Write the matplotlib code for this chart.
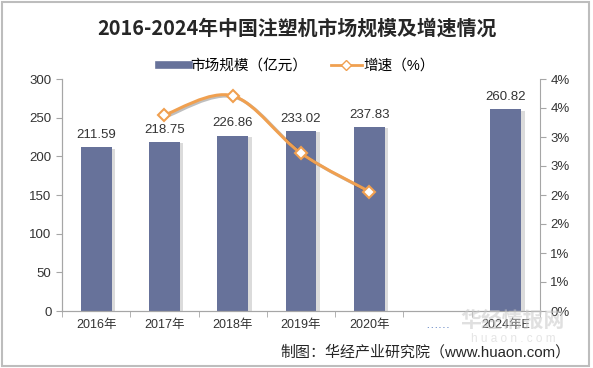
import matplotlib.pyplot as plt
import matplotlib.patheffects as pe
from matplotlib.path import Path
from matplotlib.patches import PathPatch, Rectangle
from matplotlib.lines import Line2D
from matplotlib.ticker import FuncFormatter, MultipleLocator
import numpy as np

plt.rcParams['font.family'] = ['Liberation Sans', 'Noto Sans CJK SC']

# 数据
categories = ['2016年', '2017年', '2018年', '2019年', '2020年', '……', '2024年E']
market_size = [211.59, 218.75, 226.86, 233.02, 237.83, None, 260.82]
growth_years = ['2017年', '2018年', '2019年', '2020年']
growth_rate = [3.38, 3.71, 2.72, 2.06]

bar_color = '#67729A'
line_color = '#F0A050'
axis_color = '#A6A6A6'
text_color = '#333333'

fig = plt.figure(figsize=(5.93, 3.68), dpi=100)
fig.patches.append(Rectangle((0.004, 0.006), 0.99, 0.988, transform=fig.transFigure,
                             fill=False, edgecolor='#BDBDBD', linewidth=1.5))

ax = fig.add_axes([62 / 593, 1 - 311 / 368, (540 - 62) / 593, (311 - 79) / 368])
ax2 = ax.twinx()

x = np.arange(len(categories))
xs = [i for i, v in enumerate(market_size) if v is not None]
vals = [v for v in market_size if v is not None]
bars = ax.bar(xs, vals, width=0.45, color=bar_color, zorder=2)
for b in bars:
    b.set_path_effects([pe.SimplePatchShadow(offset=(2.5, -1), shadow_rgbFace='#999999', alpha=0.35), pe.Normal()])
for xi, v in zip(xs, vals):
    ax.text(xi, v + 8, f'{v:.2f}', ha='center', va='bottom', fontsize=9.5, color=text_color)

ax.set_xlim(-0.5, len(categories) - 0.5)
ax.set_ylim(0, 300)
ax.yaxis.set_major_locator(MultipleLocator(50))
ax.set_xticks(x)
ax.set_xticklabels(categories, fontsize=9, color=text_color)
ax.get_xticklabels()[5].set_color('#5B7FC0')
ax.set_xticks(np.arange(-0.5, len(categories)), minor=True)
ax.tick_params(axis='x', which='major', length=0, pad=6)
ax.tick_params(axis='x', which='minor', length=4, color=axis_color)
ax.tick_params(axis='y', length=4, color=axis_color, labelsize=9.5, labelcolor=text_color)

for a in (ax, ax2):
    a.spines['top'].set_visible(False)
    for s in ('left', 'right', 'bottom'):
        a.spines[s].set_color(axis_color)
ax.spines['right'].set_visible(False)

# 增速 平滑曲线
gx = np.array([categories.index(c) for c in growth_years], dtype=float)
gy = np.array(growth_rate)
verts = [(gx[0], gy[0])]
codes = [Path.MOVETO]
n = len(gx)
for i in range(n - 1):
    p0 = (gx[max(i - 1, 0)], gy[max(i - 1, 0)])
    p1 = (gx[i], gy[i])
    p2 = (gx[i + 1], gy[i + 1])
    p3 = (gx[min(i + 2, n - 1)], gy[min(i + 2, n - 1)])
    c1 = (p1[0] + (p2[0] - p0[0]) / 6, p1[1] + (p2[1] - p0[1]) / 6)
    c2 = (p2[0] - (p3[0] - p1[0]) / 6, p2[1] - (p3[1] - p1[1]) / 6)
    verts += [c1, c2, p2]
    codes += [Path.CURVE4] * 3
ax2.add_patch(PathPatch(Path(verts, codes), fill=False, edgecolor=line_color, linewidth=2.2, zorder=3,
                        path_effects=[pe.SimpleLineShadow(offset=(1.5, -1), alpha=0.25), pe.Normal()]))
ax2.plot(gx, gy, linestyle='none', marker='D', markersize=6.5, markerfacecolor='white',
         markeredgecolor=line_color, markeredgewidth=1.5, zorder=4)
ax2.set_ylim(0, 4)
ax2.yaxis.set_major_locator(MultipleLocator(0.5))
ax2.yaxis.set_major_formatter(FuncFormatter(lambda v, p: f'{int(v + 0.5 + 1e-9) if v % 1 else int(v)}%'))
ax2.tick_params(axis='y', length=4, color=axis_color, labelsize=9.5, labelcolor=text_color)

# 标题与图例
fig.text(0.5, 1 - 28 / 368, '2016-2024年中国注塑机市场规模及增速情况', ha='center', va='center',
         fontsize=14.3, fontweight='bold', color='#262626', family=['Noto Sans CJK SC'])
handles = [Line2D([], [], color=bar_color, linewidth=5.5),
           Line2D([], [], color=line_color, linewidth=2, marker='D', markersize=5,
                  markerfacecolor='white', markeredgecolor=line_color)]
fig.legend(handles, ['市场规模（亿元）', '增速（%）'], loc='center', bbox_to_anchor=(0.5, 1 - 66 / 368),
           ncol=2, frameon=False, fontsize=10.5, handlelength=2.1, columnspacing=1.6, handletextpad=0.1)

# 水印与来源
fig.text(0.865, 1 - 321 / 368, '华经情报网', ha='center', va='center', fontsize=15, fontweight='bold',
         color='#C8C8C8', alpha=0.55)
fig.text(0.865, 1 - 339 / 368, 'h u a o n . c o m', ha='center', va='center', fontsize=8.5,
         color='#D0D0D0', alpha=0.55)
fig.text(1 - 22 / 593, 1 - 352 / 368, '制图：华经产业研究院（www.huaon.com）', ha='right', va='center',
         fontsize=10.8, color='#262626')

fig.savefig('out.png', dpi=100)
